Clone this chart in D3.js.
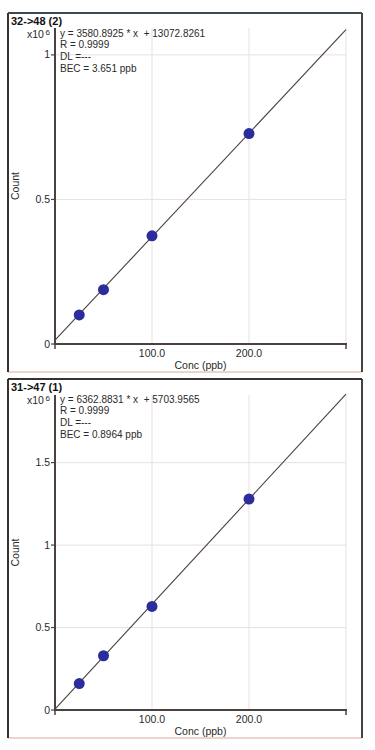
<!DOCTYPE html>
<html><head><meta charset="utf-8">
<script src="https://cdn.jsdelivr.net/npm/d3@7"></script>
<style>
html,body{margin:0;padding:0;background:#fff;}
svg{display:block;}
text{font-family:"Liberation Sans Narrow","Arial Narrow","Liberation Sans",sans-serif;fill:#2a2a2a;white-space:pre;}
.title{font-family:"Liberation Sans",Arial,sans-serif;font-weight:bold;font-size:11px;fill:#111;}
</style></head>
<body>
<script>
// ---- data ----
const conc = [25, 50, 100, 200];
const titles = ["32->48 (2)", "31->47 (1)"];
const counts1 = [100500, 188000, 374000, 728000];
const counts2 = [160000, 329000, 628000, 1279000];
const slopes = [3580.8925, 6362.8831];
const intercepts = [13072.8261, 5703.9565];
const eqLabels = ["y = 3580.8925 * x  + 13072.8261", "y = 6362.8831 * x  + 5703.9565"];
const rLabels = ["R = 0.9999", "R = 0.9999"];
const dlLabels = ["DL =---", "DL =---"];
const becLabels = ["BEC = 3.651 ppb", "BEC = 0.8964 ppb"];
const yTicks1 = [0, 500000, 1000000];
const yTicks2 = [0, 500000, 1000000, 1500000];
const yTickLabels1 = ["0", "0.5", "1"];
const yTickLabels2 = ["0", "0.5", "1", "1.5"];
const xTicks = [100, 200];
const xTickLabels = ["100.0", "200.0"];
const xMax = 300;
const yMax = [1093000, 1910000];

const panels = [
  {top:13, bottom:372, plotTop:28, axisY:344, counts:counts1, yTicks:yTicks1, yLabels:yTickLabels1},
  {top:379, bottom:738, plotTop:395, axisY:710, counts:counts2, yTicks:yTicks2, yLabels:yTickLabels2}
];

const svg = d3.select("body").append("svg").attr("width",375).attr("height",750);
const axisColor = "#4a4242";
const gridColor = "#e9e1df";

panels.forEach((p, i) => {
  const g = svg.append("g");
  // panel frame
  g.append("rect").attr("x",8).attr("y",p.top).attr("width",354).attr("height",p.bottom-p.top)
    .attr("fill","#fff").attr("stroke","none");
  g.append("line").attr("x1",8).attr("x2",362).attr("y1",p.bottom).attr("y2",p.bottom).attr("stroke","#ecd4cb").attr("stroke-width",2);
  g.append("line").attr("x1",8).attr("x2",8).attr("y1",p.top).attr("y2",p.bottom).attr("stroke","#333").attr("stroke-width",2);
  g.append("line").attr("x1",362).attr("x2",362).attr("y1",p.top).attr("y2",p.bottom).attr("stroke","#444").attr("stroke-width",2);
  g.append("line").attr("x1",8).attr("x2",362).attr("y1",p.top).attr("y2",p.top).attr("stroke", i===0 ? "#3e4a52" : "#333").attr("stroke-width",2);

  const x = d3.scaleLinear().domain([0, xMax]).range([55, 346]);
  const y = d3.scaleLinear().domain([0, yMax[i]]).range([p.axisY, p.plotTop]);

  // gridlines
  g.selectAll(".vg").data(xTicks.concat([xMax])).enter().append("line")
    .attr("x1",d=>x(d)).attr("x2",d=>x(d)).attr("y1",p.plotTop).attr("y2",p.axisY)
    .attr("stroke",gridColor).attr("stroke-width",1);
  g.selectAll(".hg").data(p.yTicks.filter(d=>d>0)).enter().append("line")
    .attr("x1",x(0)).attr("x2",x(xMax)).attr("y1",d=>y(d)).attr("y2",d=>y(d))
    .attr("stroke",gridColor).attr("stroke-width",1);

  // fit line
  const fit = [0, xMax].map(c => [c, slopes[i]*c + intercepts[i]]);
  g.append("path").datum(fit)
    .attr("d", d3.line().x(d=>x(d[0])).y(d=>y(d[1])))
    .attr("stroke","#4a3f3f").attr("stroke-width",1.1).attr("fill","none");

  // points
  g.selectAll(".pt").data(conc.map((c,k)=>[c, p.counts[k]])).enter().append("circle")
    .attr("cx",d=>x(d[0])).attr("cy",d=>y(d[1])).attr("r",5.5).attr("fill","#2b2d9c");

  // axes
  g.append("line").attr("x1",x(0)).attr("x2",x(0)).attr("y1",p.plotTop).attr("y2",p.axisY+1)
    .attr("stroke",axisColor).attr("stroke-width",2);
  g.append("line").attr("x1",x(0)-1).attr("x2",x(xMax)+1).attr("y1",p.axisY).attr("y2",p.axisY)
    .attr("stroke",axisColor).attr("stroke-width",2);
  [0, xMax].forEach(v => g.append("line").attr("x1",x(v)).attr("x2",x(v)).attr("y1",p.axisY).attr("y2",p.axisY+5)
    .attr("stroke",axisColor).attr("stroke-width",1.5));
  // y ticks
  g.selectAll(".yt").data(p.yTicks).enter().append("line")
    .attr("x1",x(0)-4).attr("x2",x(0)).attr("y1",d=>y(d)).attr("y2",d=>y(d))
    .attr("stroke",axisColor).attr("stroke-width",1.2);
  g.selectAll(".ytl").data(p.yTicks).enter().append("text")
    .attr("x",x(0)-5).attr("y",d=>y(d)+3.5).attr("text-anchor","end").attr("font-size",10.5)
    .text((d,k)=>p.yLabels[k]);
  // x tick labels
  g.selectAll(".xtl").data(xTicks).enter().append("text")
    .attr("x",d=>x(d)).attr("y",p.axisY+13).attr("text-anchor","middle").attr("font-size",10.5)
    .text((d,k)=>xTickLabels[k]);
  g.append("text").attr("x",(x(0)+x(xMax))/2).attr("y",p.axisY+25).attr("text-anchor","middle")
    .attr("font-size",10.5).text("Conc (ppb)");
  // y label
  g.append("text").attr("transform",`translate(19,${(p.plotTop+p.axisY)/2}) rotate(-90)`)
    .attr("text-anchor","middle").attr("font-size",10.5).text("Count");

  // title
  g.append("text").attr("class","title").attr("x",11).attr("y",p.top+12).text(titles[i]);
  // multiplier
  const m = g.append("text").attr("x",27).attr("y",p.top+25).attr("font-size",10.5);
  m.append("tspan").text("x10");
  m.append("tspan").attr("dx",1.5).attr("dy",-3).attr("font-size",8).text("6");

  // annotation
  const ann = [eqLabels[i], rLabels[i], dlLabels[i], becLabels[i]];
  const offs = [24, 35, 47, 59];
  ann.forEach((t,k) => {
    g.append("text").attr("x",60).attr("y",p.top+offs[k]).attr("font-size",10).text(t);
  });
});
</script>
</body></html>
